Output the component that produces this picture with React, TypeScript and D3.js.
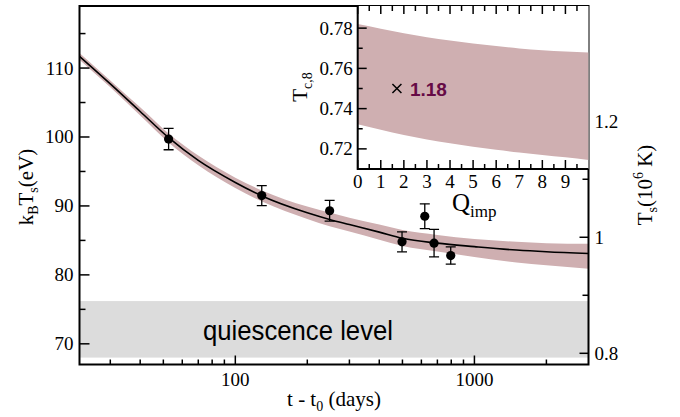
import React from 'react';
import * as d3 from 'd3';

// Cooling curve: fitted surface temperature with its uncertainty band
const fitDays = [22.3, 30, 40, 52.6, 70, 100, 130, 200, 250, 300, 400, 500, 700, 1000, 1500, 2000, 3000];
const fitKT = [111.7, 107.7, 103.7, 99.9, 96.6, 93.4, 91.4, 89.0, 88.0, 87.3, 86.2, 85.3, 84.6, 84.1, 83.6, 83.35, 83.1];
const bandUpper = [112.2, 108.2, 104.3, 100.5, 97.3, 94.1, 92.2, 89.9, 89.0, 88.3, 87.3, 86.5, 85.8, 85.2, 84.8, 84.6, 84.5];
const bandLower = [111.2, 107.2, 103.1, 99.2, 95.9, 92.6, 90.6, 88.1, 87.0, 86.3, 85.1, 84.2, 83.4, 82.6, 81.8, 81.4, 80.9];

// Observations
const obsDays = [52.6, 129, 248, 498, 620, 678, 796];
const obsKT = [99.7, 91.5, 89.3, 84.8, 88.5, 84.6, 82.8];
const obsErr = [1.55, 1.45, 1.5, 1.45, 1.8, 2.0, 1.25];

// Quiescent level range
const quiescence = [68, 76.2];

// Inset: T_c,8 allowed range vs Q_imp
const insetQ = [0, 1, 2, 3, 4, 5, 6, 7, 8, 9, 10];
const insetUpper = [0.782, 0.7797, 0.7775, 0.7755, 0.7738, 0.7724, 0.7711, 0.7699, 0.769, 0.7684, 0.7679];
const insetLower = [0.7323, 0.7295, 0.7269, 0.7247, 0.7228, 0.7211, 0.7196, 0.7182, 0.717, 0.7158, 0.7145];
const bestFit = { q: 1.7, t: 0.75, label: '1.18' };

const yTicksMajor = [70, 80, 90, 100, 110];
const yTicksMinor = [75, 85, 95, 105, 115];
const xTicksMajor = [100, 1000];
const xTicksMinor = [30, 40, 50, 60, 70, 80, 90, 200, 300, 400, 500, 600, 700, 800, 900, 2000];
const rTicksMajor = [0.8, 1.0, 1.2];
const rTicksMinor = [0.9, 1.1, 1.3];
const insetYMajor = [0.72, 0.74, 0.76, 0.78];
const insetYMinor = [0.73, 0.75, 0.77];
const insetXMajor = [0, 1, 2, 3, 4, 5, 6, 7, 8, 9];
const insetXMinor = [0.5, 1.5, 2.5, 3.5, 4.5, 5.5, 6.5, 7.5, 8.5, 9.5];

const W = 680;
const H = 417;
const L = 79.5, R = 588.5, T = 6, B = 364.5;
const IL = 357.7, IB = 169;

const serif = "'Liberation Serif', 'Times New Roman', serif";
const sans = "'Liberation Sans', Arial, sans-serif";
const bandColor = '#cfafb1';

export default function App() {
  const x = d3.scaleLog().domain([22.3, 3000]).range([L, R]);
  const y = d3.scaleLinear().domain([67, 119]).range([B, T]);
  const yR = d3.scaleLinear().domain([0.7807, 1.3986]).range([B, T]);
  const xi = d3.scaleLinear().domain([0, 10]).range([IL, R]);
  const yi = d3.scaleLinear().domain([0.71, 0.791]).range([IB, T]);

  const idx = fitDays.map((_, i) => i);
  const band = d3
    .area<number>()
    .x((i) => x(fitDays[i]))
    .y0((i) => y(bandLower[i]))
    .y1((i) => y(bandUpper[i]))
    .curve(d3.curveMonotoneX);
  const fit = d3
    .line<number>()
    .x((i) => x(fitDays[i]))
    .y((i) => y(fitKT[i]))
    .curve(d3.curveMonotoneX);

  const qIdx = insetQ.map((_, i) => i);
  const insetBand = d3
    .area<number>()
    .x((i) => xi(insetQ[i]))
    .y0((i) => yi(insetLower[i]))
    .y1((i) => yi(insetUpper[i]))
    .curve(d3.curveMonotoneX);

  const fs = 19;
  const ts = 21;
  const bx = xi(bestFit.q);
  const by = yi(bestFit.t);

  return (
    <svg width={W} height={H} style={{ position: 'absolute', left: 0, top: 0, display: 'block', background: '#fff' }}>
      <defs>
        <clipPath id="plotClip">
          <rect x={L} y={T} width={R - L} height={B - T} />
        </clipPath>
        <clipPath id="insetClip">
          <rect x={IL} y={T} width={R - IL} height={IB - T} />
        </clipPath>
      </defs>

      {/* quiescence band */}
      <rect
        x={L}
        y={y(quiescence[1])}
        width={R - L}
        height={y(quiescence[0]) - y(quiescence[1])}
        fill="#dcdcdc"
      />
      <text
        x={298}
        y={y(72) + 10}
        fontFamily={sans}
        fontSize={27}
        textAnchor="middle"
        textLength={190}
        lengthAdjust="spacingAndGlyphs"
        fill="#000"
      >
        quiescence level
      </text>

      <g clipPath="url(#plotClip)">
        <path d={band(idx) || ''} fill={bandColor} />
        <path d={fit(idx) || ''} fill="none" stroke="#000" strokeWidth={1.6} />
        {obsDays.map((d, i) => {
          const cx = x(d);
          const top = y(obsKT[i] + obsErr[i]);
          const bot = y(obsKT[i] - obsErr[i]);
          return (
            <g key={i} stroke="#000" strokeWidth={1.3}>
              <line x1={cx} x2={cx} y1={top} y2={bot} />
              <line x1={cx - 5} x2={cx + 5} y1={top} y2={top} />
              <line x1={cx - 5} x2={cx + 5} y1={bot} y2={bot} />
              <circle cx={cx} cy={y(obsKT[i])} r={4.6} fill="#000" stroke="none" />
            </g>
          );
        })}
      </g>

      {/* main frame and ticks */}
      <g stroke="#000" strokeWidth={1.5}>
        {yTicksMajor.map((v) => (
          <line key={'ym' + v} x1={L} x2={L + 10} y1={y(v)} y2={y(v)} />
        ))}
        {yTicksMinor.map((v) => (
          <line key={'yn' + v} x1={L} x2={L + 6} y1={y(v)} y2={y(v)} />
        ))}
        {xTicksMajor.map((v) => (
          <line key={'xm' + v} x1={x(v)} x2={x(v)} y1={B} y2={B - 9} />
        ))}
        {xTicksMinor.map((v) => (
          <line key={'xn' + v} x1={x(v)} x2={x(v)} y1={B} y2={B - 5} />
        ))}
        {rTicksMajor.map((v) => (
          <line key={'rm' + v} x1={R} x2={R - 9} y1={yR(v)} y2={yR(v)} />
        ))}
        {rTicksMinor.map((v) => (
          <line key={'rn' + v} x1={R} x2={R - 6} y1={yR(v)} y2={yR(v)} />
        ))}
      </g>
      <rect x={L} y={T} width={R - L} height={B - T} fill="none" stroke="#000" strokeWidth={2} />

      {/* main tick labels */}
      <g fontFamily={serif} fontSize={fs} fill="#000">
        {yTicksMajor.map((v) => (
          <text key={'yl' + v} x={L - 6} y={y(v) + 6.5} textAnchor="end">
            {v}
          </text>
        ))}
        {xTicksMajor.map((v) => (
          <text key={'xl' + v} x={x(v)} y={386} textAnchor="middle">
            {v}
          </text>
        ))}
        {rTicksMajor.map((v) => (
          <text key={'rl' + v} x={R + 6} y={yR(v) + 6.5} textAnchor="start">
            {v === 1 ? '1' : String(v)}
          </text>
        ))}
      </g>

      {/* axis titles */}
      <text x={334} y={406} fontFamily={serif} fontSize={ts} textAnchor="middle">
        t - t<tspan fontSize={14} dy={5}>0</tspan>
        <tspan dy={-5}> (days)</tspan>
      </text>
      <text transform="translate(33,187) rotate(-90)" fontFamily={serif} fontSize={ts} textAnchor="middle">
        k<tspan fontSize={14} dy={5}>B</tspan>
        <tspan dy={-5}>T</tspan>
        <tspan fontSize={14} dy={5}>s</tspan>
        <tspan dy={-5}>(eV)</tspan>
      </text>
      <text transform="translate(652,185) rotate(-90)" fontFamily={serif} fontSize={ts} textAnchor="middle">
        T<tspan fontSize={14} dy={5}>s</tspan>
        <tspan dy={-5}>(10</tspan>
        <tspan fontSize={14} dy={-9}>6</tspan>
        <tspan dy={9}> K)</tspan>
      </text>

      {/* inset */}
      <rect x={IL} y={T} width={R - IL} height={IB - T} fill="#fff" />
      <g clipPath="url(#insetClip)">
        <path d={insetBand(qIdx) || ''} fill={bandColor} />
      </g>
      <g stroke="#000" strokeWidth={1.5}>
        <line x1={bx - 4.5} x2={bx + 4.5} y1={by - 4.5} y2={by + 4.5} />
        <line x1={bx - 4.5} x2={bx + 4.5} y1={by + 4.5} y2={by - 4.5} />
      </g>
      <text x={bx + 13} y={by + 7} fontFamily={sans} fontWeight="bold" fontSize={19} fill="#660a46">
        {bestFit.label}
      </text>
      <g stroke="#000" strokeWidth={1.5}>
        {insetYMajor.map((v) => (
          <line key={'iym' + v} x1={IL} x2={IL + 9} y1={yi(v)} y2={yi(v)} />
        ))}
        {insetYMinor.map((v) => (
          <line key={'iyn' + v} x1={IL} x2={IL + 5} y1={yi(v)} y2={yi(v)} />
        ))}
        {insetXMajor.map((v) => (
          <g key={'ixm' + v}>
            <line x1={xi(v)} x2={xi(v)} y1={IB} y2={IB - 9} />
            <line x1={xi(v)} x2={xi(v)} y1={T} y2={T + 8} />
          </g>
        ))}
        {insetXMinor.map((v) => (
          <g key={'ixn' + v}>
            <line x1={xi(v)} x2={xi(v)} y1={IB} y2={IB - 5} />
            <line x1={xi(v)} x2={xi(v)} y1={T} y2={T + 5} />
          </g>
        ))}
      </g>
      <path d={`M${IL},${T}V${IB}H${R}`} fill="none" stroke="#000" strokeWidth={2} />
      <g fontFamily={serif} fontSize={fs} fill="#000">
        {insetYMajor.map((v) => (
          <text key={'iyl' + v} x={IL - 5} y={yi(v) + 6.5} textAnchor="end">
            {v.toFixed(2)}
          </text>
        ))}
        {insetXMajor.map((v) => (
          <text key={'ixl' + v} x={xi(v)} y={188} textAnchor="middle">
            {v}
          </text>
        ))}
      </g>
      <text x={452} y={211} fontFamily={serif} fontSize={25}>
        Q<tspan fontSize={17} dy={6}>imp</tspan>
      </text>
      <text transform="translate(307,87) rotate(-90)" fontFamily={serif} fontSize={ts} textAnchor="middle">
        T<tspan fontSize={14} dy={5}>c,8</tspan>
      </text>
    </svg>
  );
}
